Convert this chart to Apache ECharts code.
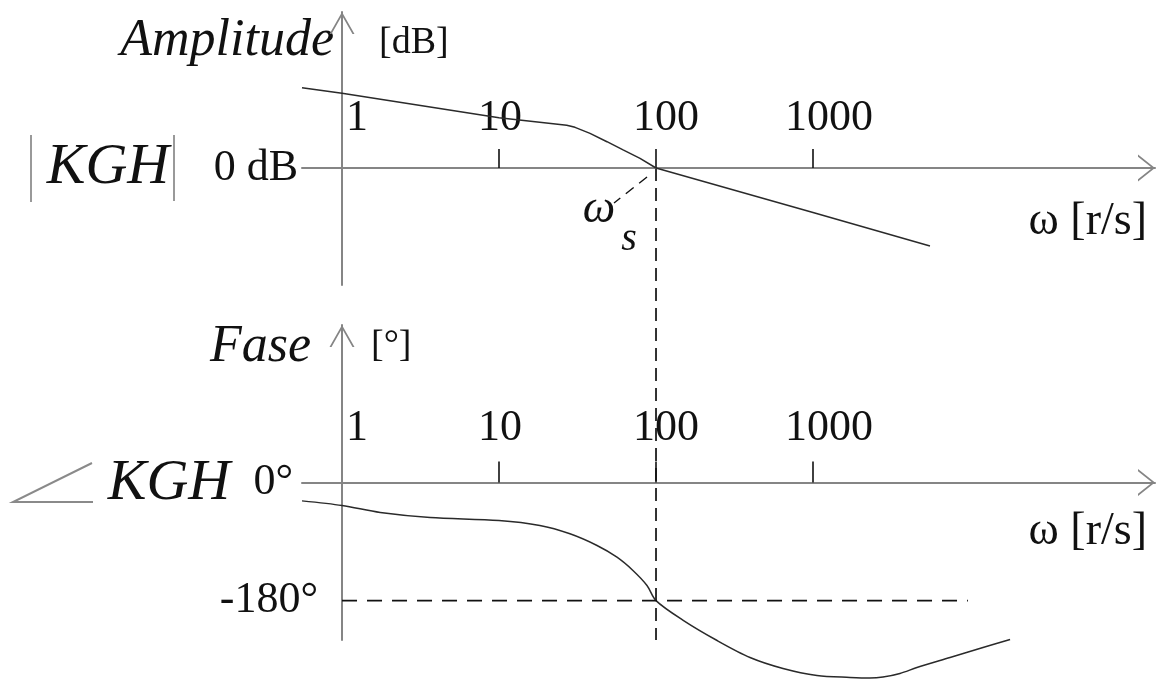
<!DOCTYPE html>
<html>
<head>
<meta charset="utf-8">
<script src="https://cdn.jsdelivr.net/npm/echarts@6/dist/echarts.min.js"></script>
<style>
  html, body { margin: 0; padding: 0; background: #fff; overflow: hidden; }
  #chart { width: 1156px; height: 681px; }
</style>
</head>
<body>
<div id="chart"></div>
<script>
// Frequency axis: labelled decades and the decades that carry a tick mark (rad/s)
const freqLabels = [1, 10, 100, 1000];
const freqTickMarks = [10, 100, 1000];

// |KGH| in dB against ω
const magOmega = [0.556, 1, 10, 27, 30.5, 38, 48.7, 61.7, 79.1, 100, 1000, 5560];
const magDb    = [72, 67, 45, 38.4, 36.5, 31.1, 23.6, 16.2, 8.7, 0, -40, -70];

// Phase of KGH in degrees against ω
const phaseOmega = [0.556, 1, 1.75, 3.64, 10, 18.2, 28.3, 42.1, 56.4, 71.3, 87.6, 100,
                    149, 245, 397, 644, 1060, 1720, 2300, 2790, 3580, 4590, 7460, 12100, 18000];
const phaseDeg   = [-28, -35, -45.7, -53.3, -57.9, -65.5, -78.2, -96, -113.8, -134, -156.9, -180,
                    -210, -240.8, -266.7, -283.4, -294, -297, -298, -296.5, -291, -282, -266.7, -251.4, -239.2];

// Crossover frequency ω_s and the -180° reference line
const crossoverOmega = 100;
const phaseReference = -180;
const phaseReferenceSpan = [1, 9700];

// Value labels on the vertical axes
const magAxisLabels = [0];
const phaseAxisLabels = [0, -180];

// ---- styling ----
const SERIF = '"Liberation Serif", "Times New Roman", serif';
const AXIS_GREY = '#858585';
const INK = '#111';
const X_MIN = 0.556, X_MAX = 150800;
const MAG_RANGE = [-105, 140];
const PHASE_RANGE = [-240, 240];

// open chevron arrow heads (pointing up, rotated by ECharts along the axis)
const xArrow = 'path://M0,17 L13.5,0 L27,17 L24.8,17 L13.5,2.8 L2.2,17 Z';
const yArrow = 'path://M0,22 L12.5,0 L25,22 L23,22 L12.5,3.6 L2,22 Z';

// small horizontal nudges of the decade labels
const labelShift = { 1: 15, 10: 1, 100: 10, 1000: 16 };
const shiftRich = {};
Object.keys(labelShift).forEach(function (k) {
  shiftRich['s' + k] = { padding: [0, 0, 0, labelShift[k] * 2] };
});

// the ω axis runs through the zero level of each plot: lift it from the grid bottom
function freqAxis(gridIndex, lift, tickLen, labelMargin) {
  return {
    type: 'log', logBase: 10, gridIndex: gridIndex, position: 'bottom',
    min: X_MIN, max: X_MAX, offset: -lift,
    axisLine: {
      onZero: false,
      lineStyle: { color: AXIS_GREY, width: 2 },
      symbol: ['none', xArrow], symbolSize: [27, 17], symbolOffset: [0, -8.5]
    },
    axisTick: {
      show: true, inside: true, length: tickLen,
      customValues: freqTickMarks,
      lineStyle: { color: INK, width: 1.6 }
    },
    axisLabel: {
      show: true, inside: true, margin: labelMargin,
      customValues: freqLabels,
      fontFamily: SERIF, fontSize: 44, color: INK,
      formatter: function (v) { const r = Math.round(v); return '{s' + r + '|' + r + '}'; },
      rich: shiftRich
    },
    splitLine: { show: false }, minorTick: { show: false }
  };
}

function levelAxis(gridIndex, range, labels, margin, formatter, rich) {
  return {
    type: 'value', gridIndex: gridIndex,
    min: range[0], max: range[1], offset: -40,
    axisLine: {
      show: true, onZero: false,
      lineStyle: { color: AXIS_GREY, width: 2 },
      symbol: ['none', yArrow], symbolSize: [25, 22], symbolOffset: [0, -11]
    },
    axisTick: { show: false },
    axisLabel: {
      show: true, margin: margin, customValues: labels,
      fontFamily: SERIF, fontSize: 44, color: INK,
      formatter: formatter, rich: rich || {}
    },
    splitLine: { show: false }
  };
}

const magData = magOmega.map(function (w, i) { return [w, magDb[i]]; });
const phaseData = phaseOmega.map(function (w, i) { return [w, phaseDeg[i]]; });
const refData = phaseReferenceSpan.map(function (w) { return [w, phaseReference]; });

const MAG_GRID = { left: 302, right: 1, top: 12, height: 273 };
const PHASE_GRID = { left: 302, right: 1, top: 325, height: 315 };
// distance from the grid bottom up to the 0 level
const magLift = MAG_GRID.height * (0 - MAG_RANGE[0]) / (MAG_RANGE[1] - MAG_RANGE[0]);
const phaseLift = PHASE_GRID.height * (0 - PHASE_RANGE[0]) / (PHASE_RANGE[1] - PHASE_RANGE[0]);

const option = {
  animation: false,
  backgroundColor: '#fff',
  grid: [MAG_GRID, PHASE_GRID],
  xAxis: [freqAxis(0, magLift, 19, 28), freqAxis(1, phaseLift, 21, 32)],
  yAxis: [
    levelAxis(0, MAG_RANGE, magAxisLabels, 44, function () { return '0 dB'; }),
    levelAxis(1, PHASE_RANGE, phaseAxisLabels, 24,
      function (v) { return v === 0 ? '{z|0°}' : '{n|' + v + '°}'; },
      { z: { padding: [0, 25, 0, 0] }, n: {} })
  ],
  series: [
    {
      name: '|KGH|', type: 'line', xAxisIndex: 0, yAxisIndex: 0,
      data: magData, showSymbol: false, clip: false,
      lineStyle: { color: '#2a2a2a', width: 1.5 }
    },
    {
      name: '∠KGH', type: 'line', xAxisIndex: 1, yAxisIndex: 1,
      data: phaseData, showSymbol: false, clip: false, smooth: 0.3,
      lineStyle: { color: '#2a2a2a', width: 1.5 }
    },
    {
      name: '-180°', type: 'line', xAxisIndex: 1, yAxisIndex: 1,
      data: refData, showSymbol: false, clip: false,
      lineStyle: { color: INK, width: 1.7, type: [15, 10] }
    }
  ]
};

const chart = echarts.init(document.getElementById('chart'), null, { renderer: 'canvas' });
chart.setOption(option);

// annotations tied to the crossover point ω_s
const pCross = chart.convertToPixel({ gridIndex: 0 }, [crossoverOmega, 0]);
const pBottom = chart.convertToPixel({ gridIndex: 1 }, [crossoverOmega, PHASE_RANGE[0]]);

function text(str, x, y, font, align) {
  return {
    type: 'text', x: x, y: y, silent: true,
    style: { text: str, font: font, fill: INK, align: align || 'left', verticalAlign: 'middle' }
  };
}

chart.setOption({
  graphic: [
    // crossover guide through both plots
    { type: 'line', silent: true,
      shape: { x1: pCross[0], y1: pCross[1], x2: pBottom[0], y2: pBottom[1] },
      style: { stroke: INK, lineWidth: 1.7, lineDash: [13, 7] } },
    // leader from the ω_s label
    { type: 'line', silent: true,
      shape: { x1: pCross[0] - 9, y1: pCross[1] + 9, x2: pCross[0] - 42, y2: pCross[1] + 35 },
      style: { stroke: INK, lineWidth: 1.4, lineDash: [10, 7] } },
    text('ω', pCross[0] - 57, pCross[1] + 42, 'italic 46px ' + SERIF, 'center'),
    text('s', pCross[0] - 27, pCross[1] + 71, 'italic 40px ' + SERIF, 'center'),

    // magnitude plot titles
    text('Amplitude', 334, 41, 'italic 52px ' + SERIF, 'right'),
    text('[dB]', 379, 43, '38px ' + SERIF, 'left'),
    { type: 'line', silent: true, shape: { x1: 31, y1: 135, x2: 31, y2: 202 },
      style: { stroke: '#999', lineWidth: 2 } },
    { type: 'line', silent: true, shape: { x1: 174, y1: 135, x2: 174, y2: 201 },
      style: { stroke: '#999', lineWidth: 2 } },
    text('KGH', 108, 168, 'italic 58px ' + SERIF, 'center'),
    text('ω [r/s]', 1147, 222, '46px ' + SERIF, 'right'),

    // phase plot titles
    text('Fase', 311, 347, 'italic 52px ' + SERIF, 'right'),
    text('[°]', 371, 346, '38px ' + SERIF, 'left'),
    { type: 'polyline', silent: true, shape: { points: [[92, 463], [13, 502], [93, 502]] },
      style: { stroke: '#8a8a8a', lineWidth: 2, fill: null } },
    text('KGH', 169, 484, 'italic 58px ' + SERIF, 'center'),
    text('ω [r/s]', 1147, 532, '46px ' + SERIF, 'right')
  ]
});
</script>
</body>
</html>
